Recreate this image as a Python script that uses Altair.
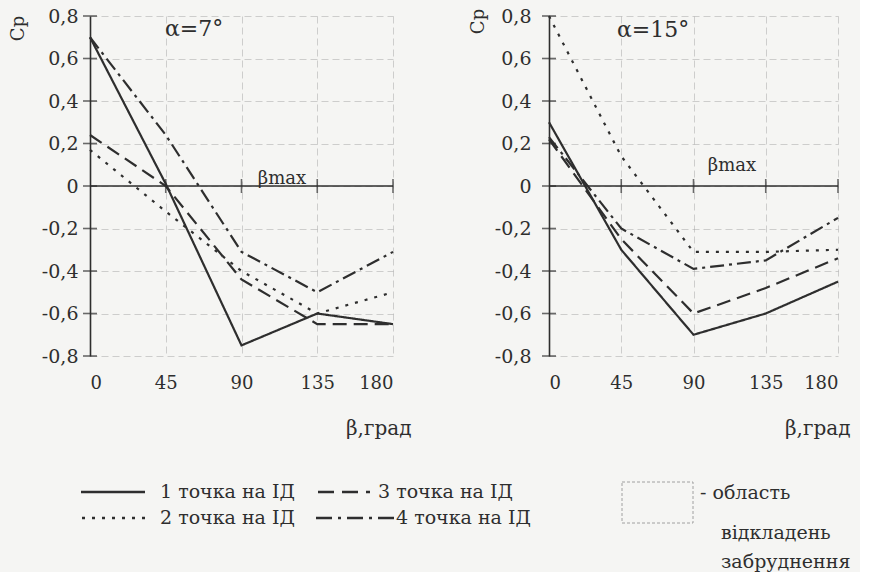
import altair as alt
import pandas as pd

# ---------------- data ----------------
beta = [0, 45, 90, 135, 180]
series_names = ["1 точка на ІД", "2 точка на ІД", "3 точка на ІД", "4 точка на ІД"]

# alpha = 7 deg
cp7_p1 = [0.70, 0.01, -0.75, -0.60, -0.65]
cp7_p2 = [0.17, -0.12, -0.40, -0.60, -0.50]
cp7_p3 = [0.24, 0.00, -0.44, -0.65, -0.65]
cp7_p4 = [0.70, 0.24, -0.31, -0.50, -0.31]

# alpha = 15 deg
cp15_p1 = [0.30, -0.30, -0.70, -0.60, -0.45]
cp15_p2 = [0.80, 0.14, -0.31, -0.31, -0.30]
cp15_p3 = [0.22, -0.25, -0.60, -0.48, -0.34]
cp15_p4 = [0.23, -0.20, -0.39, -0.35, -0.15]

x_ticks = [0, 45, 90, 135, 180]
zero_ticks = [45, 90, 135, 180]
y_ticks = [-0.8, -0.6, -0.4, -0.2, 0, 0.2, 0.4, 0.6, 0.8]

FONT = "DejaVu Serif"
INK = "#2e2e2e"
BG = "#f5f5f3"
dash_range = [[1, 0], [3, 7], [14, 7], [14, 5, 3, 5]]


def make_df(series_lists):
    rows = []
    for name, vals in zip(series_names, series_lists):
        for b, v in zip(beta, vals):
            rows.append({"beta": b, "cp": v, "series": name})
    return pd.DataFrame(rows)


df7 = make_df([cp7_p1, cp7_p2, cp7_p3, cp7_p4])
df15 = make_df([cp15_p1, cp15_p2, cp15_p3, cp15_p4])

label_expr = ("datum.value == 0 ? '0' : replace(replace(format(datum.value, '.1f'), '.', ','), '\u2212', '-')")


def panel(df, alpha_txt, width, ylab_pad, ytitle_x, ytitle_y, alpha_xy, bmax_xy, xtitle_dx):
    height = 340
    xs = alt.Scale(domain=[0, 180], nice=False, zero=False)
    ys = alt.Scale(domain=[-0.8, 0.8], nice=False, zero=False)
    xaxis = alt.Axis(values=x_ticks, format="d", domain=False, ticks=False, tickSize=0,
                     labelPadding=18, labelFont=FONT, labelFontSize=18, labelColor=INK,
                     grid=True, gridDash=[7, 4], gridColor="#9a9a9a", gridWidth=0.8, gridOpacity=0.55,
                     title="β,град", titleFont=FONT, titleFontSize=20, titleFontWeight="normal",
                     titleColor=INK, titleAlign="right", titleAnchor="end",
                     titleX=width + xtitle_dx, titleY=72, titleBaseline="middle")
    yaxis = alt.Axis(values=y_ticks, labelExpr=label_expr, domain=True, domainColor=INK,
                     domainWidth=1.6, ticks=False, tickSize=0, labelPadding=ylab_pad,
                     labelFont=FONT, labelFontSize=19, labelColor=INK,
                     grid=True, gridDash=[7, 4], gridColor="#9a9a9a", gridWidth=0.8, gridOpacity=0.55,
                     title="Cp", titleFont=FONT, titleFontSize=18, titleFontWeight="normal",
                     titleColor=INK, titleAngle=-90, titleX=ytitle_x, titleY=ytitle_y,
                     titleAlign="center", titleBaseline="middle")
    X = alt.X("beta:Q", scale=xs, axis=xaxis)
    Y = alt.Y("cp:Q", scale=ys, axis=yaxis)

    lines = alt.Chart(df).mark_line(color=INK, strokeWidth=2.2, strokeCap="butt").encode(
        x=X, y=Y,
        strokeDash=alt.StrokeDash("series:N", scale=alt.Scale(domain=series_names, range=dash_range),
                                  legend=None),
    )
    zero = alt.Chart(pd.DataFrame({"beta": [0], "b2": [180], "cp": [0]})).mark_rule(
        color=INK, strokeWidth=1.6).encode(x=X, x2="b2:Q", y=Y)
    xt = alt.Chart(pd.DataFrame({"beta": zero_ticks, "cp": [0] * len(zero_ticks)})).mark_tick(
        orient="vertical", size=14, thickness=1.6, color=INK).encode(x=X, y=Y)
    yt = alt.Chart(pd.DataFrame({"cp": y_ticks, "beta": [0] * len(y_ticks)})).mark_tick(
        orient="horizontal", size=14, thickness=1.6, color=INK).encode(x=X, y=Y)
    atext = alt.Chart(pd.DataFrame({"t": [alpha_txt]})).mark_text(
        font=FONT, fontSize=22, color=INK, align="left", baseline="middle").encode(
        text="t:N", x=alt.value(alpha_xy[0]), y=alt.value(alpha_xy[1]))
    btext = alt.Chart(pd.DataFrame({"t": ["βmax"]})).mark_text(
        font=FONT, fontSize=18, color=INK, align="center", baseline="middle").encode(
        text="t:N", x=alt.value(bmax_xy[0]), y=alt.value(bmax_xy[1]))
    return alt.layer(lines, zero, xt, yt, atext, btext).properties(width=width, height=height)


left = panel(df7, "α=7°", 303, 12, -72, 12, (75, 13), (192, 163), 18)
right = panel(df15, "α=15°", 289, 18, -71, 5, (68, 14), (183, 150), 12)

# ---------------- legend ----------------
LX0, LY0 = 90, 470  # page origin of legend panel (aligned with left plot origin)
leg_lines = [
    (81, 145, 492, [1, 0]),
    (318, 370, 492, [16, 8]),
    (82, 145, 518, [3, 7]),
    (316, 394, 518, [16, 6, 3, 6]),
]
leg_texts = [
    ("1 точка на ІД", 160, 492),
    ("3 точка на ІД", 378, 492),
    ("2 точка на ІД", 160, 518),
    ("4 точка на ІД", 396, 518),
    ("- область", 700, 493),
    ("відкладень", 721, 533),
    ("забруднення", 721, 562),
]
layers = [alt.Chart(pd.DataFrame({"a": [0]})).mark_rect(opacity=0).encode(
    x=alt.value(0), x2=alt.value(770), y=alt.value(0), y2=alt.value(100))]
for x1, x2, yy, dash in leg_lines:
    layers.append(alt.Chart(pd.DataFrame({"a": [0]})).mark_rule(
        color=INK, strokeWidth=2.4, strokeDash=dash).encode(
        x=alt.value(x1 - LX0), x2=alt.value(x2 - LX0), y=alt.value(yy - LY0)))
for t, tx, ty in leg_texts:
    layers.append(alt.Chart(pd.DataFrame({"t": [t]})).mark_text(
        font=FONT, fontSize=19, color=INK, align="left", baseline="middle").encode(
        text="t:N", x=alt.value(tx - LX0), y=alt.value(ty - LY0)))
layers.append(alt.Chart(pd.DataFrame({"a": [0]})).mark_rect(
    fill=None, stroke="#a0a0a0", strokeWidth=1, strokeDash=[3, 2]).encode(
    x=alt.value(622 - LX0), x2=alt.value(693 - LX0), y=alt.value(482 - LY0), y2=alt.value(523 - LY0)))
legend = alt.layer(*layers).properties(width=770, height=100)

chart = alt.vconcat(
    alt.hconcat(left, right, spacing=58),
    legend,
    spacing=32,
).properties(padding={"left": 9, "top": 7, "right": 0, "bottom": 0}).configure(
    background=BG, font=FONT
).configure_view(stroke=None)

chart.save("out.html", embed_options={"renderer": "svg", "actions": False})
